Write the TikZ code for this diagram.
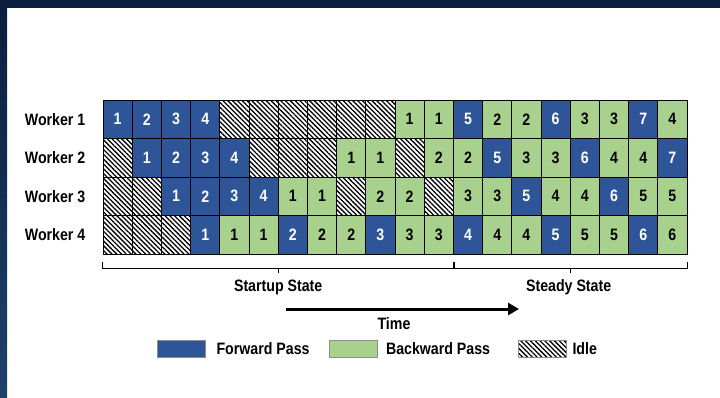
\documentclass[tikz,border=0pt]{standalone}
\usepackage{fontspec}
\setmainfont{Liberation Sans}[FakeStretch=0.86]
\usepackage{xcolor}
\usetikzlibrary{positioning, arrows.meta, patterns.meta, calc}
\definecolor{fpblue}{HTML}{2E5597}
\definecolor{bpgreen}{HTML}{A9D18E}
\definecolor{navyframe}{HTML}{0B1E3F}
\definecolor{navyside}{HTML}{1D426B}

\begin{document}
\begin{tikzpicture}[x=1pt, y=-1pt,
    cell/.style={draw=black, line width=0.9pt, minimum width=29.2pt, minimum height=38.5pt, inner sep=0pt, font=\bfseries\fontsize{16.5}{16.5}\selectfont},
    fw/.style={cell, fill=fpblue, text=white},
    bw/.style={cell, fill=bpgreen},
    hatch/.style={pattern={Lines[angle=-45, distance=3.4pt, line width=1.3pt]}},
    idlecell/.style={cell, hatch},
    wlabel/.style={inner sep=0pt, font=\bfseries\fontsize{16.5}{16.5}\selectfont},
    swatch/.style={draw=black!45, line width=0.6pt, minimum width=48pt, minimum height=17pt, inner sep=0pt},
    brace/.style={line width=1.4pt},
    timearrow/.style={line width=3pt, -{Triangle[length=11pt, width=12pt]}},
]
\useasboundingbox (0,0) rectangle (720,397);

% Frame
\fill[navyframe] (0,0) rectangle (720,8);
\shade[top color=navyframe, bottom color=navyside] (0,8) rectangle (7,397);

% Pipeline schedule
\foreach \row [count=\r] in {
    {fw/1,fw/2,fw/3,fw/4,idlecell/{},idlecell/{},idlecell/{},idlecell/{},idlecell/{},idlecell/{},bw/1,bw/1,fw/5,bw/2,bw/2,fw/6,bw/3,bw/3,fw/7,bw/4},
    {idlecell/{},fw/1,fw/2,fw/3,fw/4,idlecell/{},idlecell/{},idlecell/{},bw/1,bw/1,idlecell/{},bw/2,bw/2,fw/5,bw/3,bw/3,fw/6,bw/4,bw/4,fw/7},
    {idlecell/{},idlecell/{},fw/1,fw/2,fw/3,fw/4,bw/1,bw/1,idlecell/{},bw/2,bw/2,idlecell/{},bw/3,bw/3,fw/5,bw/4,bw/4,fw/6,bw/5,bw/5},
    {idlecell/{},idlecell/{},idlecell/{},fw/1,bw/1,bw/1,fw/2,bw/2,bw/2,fw/3,bw/3,bw/3,fw/4,bw/4,bw/4,fw/5,bw/5,bw/5,fw/6,bw/6}} {
    \foreach \t/\n [count=\c] in \row {
        \node[\t] (w\r-\c) at ({103+29.2*(\c-0.5)}, {100+38.5*(\r-0.5)}) {\n};
    }
    \node[wlabel, left=17pt of w\r-1] (lab\r) {Worker \r};
}

% Phases
\coordinate (bl) at ([yshift=-14pt]w4-1.south west);
\coordinate (bm) at ([yshift=-14pt]w4-12.south east);
\coordinate (br) at ([yshift=-14pt]w4-20.south east);
\draw[brace] ([yshift=6pt]bl) -- (bl) -- (br) -- ([yshift=6pt]br);
\draw[brace] (bm) -- ([yshift=6pt]bm);
\draw[brace] ($(bl)!0.5!(bm)$) -- ++(0,5);
\draw[brace] ($(bm)!0.5!(br)$) -- ++(0,5);
\node[wlabel] (startup) at ($(bl)!0.5!(bm) + (0,19)$) {Startup State};
\node[wlabel] (steady) at ($(bm)!0.5!(br) + (-2,19)$) {Steady State};

% Time
\coordinate (t0) at (286,309);
\coordinate (t1) at (519,309);
\draw[timearrow] (t0) -- (t1);
\node[wlabel] (time) at (394,324) {Time};

% Legend
\node[swatch, fill=fpblue] (lfw) at (181,348.5) {};
\node[wlabel, right=11pt of lfw] (lfwtext) {Forward Pass};
\node[swatch, fill=bpgreen] (lbw) at (353.5,348.5) {};
\node[wlabel, right=8pt of lbw] (lbwtext) {Backward Pass};
\node[swatch, hatch] (lid) at (542,348.5) {};
\node[wlabel, right=6pt of lid] (lidtext) {Idle};

\end{tikzpicture}
\end{document}
